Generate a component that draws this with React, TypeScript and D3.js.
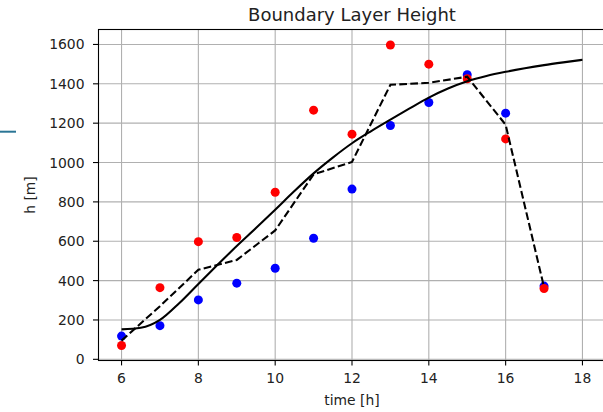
import React from "react";
import * as d3 from "d3";

const hours = [6, 7, 8, 9, 10, 11, 12, 13, 14, 15, 16, 17];
const redValues = [70, 364, 598, 619, 849, 1266, 1144, 1597, 1500, 1426, 1120, 360];
const blueValues = [118, 171, 302, 387, 463, 615, 865, 1188, 1305, 1446, 1251, 372];
const dashedValues = [95, 270, 455, 505, 655, 940, 1003, 1395, 1405, 1436, 1192, 366];

const modelHours = [6, 6.5, 7, 7.5, 8, 8.5, 9, 9.5, 10, 10.5, 11, 11.5, 12, 12.5, 13, 13.5, 14, 14.5, 15, 15.5, 16, 16.5, 17, 17.5, 18];
const modelValues = [152, 160, 200, 285, 383, 480, 576, 667, 760, 855, 945, 1025, 1098, 1160, 1218, 1275, 1330, 1376, 1413, 1440, 1461, 1479, 1495, 1509, 1522];

const xTicks = [6, 8, 10, 12, 14, 16, 18];
const yTicks = [0, 200, 400, 600, 800, 1000, 1200, 1400, 1600];

const W = 603;
const H = 412;
const L = 98.5, R = 605.5, T = 29.5, B = 360.5;
const FONT = "DejaVu Sans, sans-serif";
const TXT = "#222";

export default function App() {
  const x = d3.scaleLinear().domain([5.4, 18.6]).range([L, R]);
  const y = d3.scaleLinear().domain([-6, 1676]).range([B, T]);

  const dashedLine = d3
    .line<number>()
    .x((_, i) => x(hours[i]))
    .y((d) => y(d))(dashedValues) as string;

  const modelLine = d3
    .line<number>()
    .x((_, i) => x(modelHours[i]))
    .y((d) => y(d))
    .curve(d3.curveMonotoneX)(modelValues) as string;

  return (
    <svg
      width={W}
      height={H}
      viewBox={`0 0 ${W} ${H}`}
      style={{ position: "absolute", left: 0, top: 0, background: "#fff" }}
    >
      <rect x={0} y={0} width={W} height={H} fill="#fff" />
      {/* artifact line at left */}
      <line x1={0} x2={16} y1={131.7} y2={131.7} stroke="#2a7595" strokeWidth={2} />

      <defs>
        <clipPath id="plotclip">
          <rect x={L} y={T} width={R - L} height={B - T} />
        </clipPath>
      </defs>

      {/* grid */}
      {xTicks.map((t) => (
        <line key={"gx" + t} x1={x(t)} x2={x(t)} y1={T} y2={B} stroke="#b0b0b0" strokeWidth={1.1} />
      ))}
      {yTicks.map((t) => (
        <line key={"gy" + t} x1={L} x2={R} y1={y(t)} y2={y(t)} stroke="#b0b0b0" strokeWidth={1.1} />
      ))}

      <g clipPath="url(#plotclip)">
        {hours.map((h, i) => (
          <circle key={"b" + h} cx={x(h)} cy={y(blueValues[i])} r={4.5} fill="#0000ff" />
        ))}
        {hours.map((h, i) => (
          <circle key={"r" + h} cx={x(h)} cy={y(redValues[i])} r={4.5} fill="#ff0000" />
        ))}
        <path d={dashedLine} fill="none" stroke="#000" strokeWidth={2.08} strokeDasharray="7.7,3.3" />
        <path d={modelLine} fill="none" stroke="#000" strokeWidth={2.08} />
      </g>

      {/* spines */}
      <rect x={L} y={T} width={R - L} height={B - T} fill="none" stroke="#000" strokeWidth={1.1} />

      {/* x ticks */}
      {xTicks.map((t) => (
        <g key={"xt" + t}>
          <line x1={x(t)} x2={x(t)} y1={B} y2={B + 4.9} stroke="#000" strokeWidth={1.1} />
          <text x={x(t)} y={383} textAnchor="middle" fontFamily={FONT} fontSize={13.9} fill={TXT}>
            {t}
          </text>
        </g>
      ))}
      {/* y ticks */}
      {yTicks.map((t) => (
        <g key={"yt" + t}>
          <line x1={L - 5.5} x2={L} y1={y(t)} y2={y(t)} stroke="#000" strokeWidth={1.1} />
          <text
            x={L - 14}
            y={y(t)}
            dy="0.36em"
            textAnchor="end"
            fontFamily={FONT}
            fontSize={13.9}
            fill={TXT}
          >
            {t}
          </text>
        </g>
      ))}

      <text x={(L + R) / 2} y={21} textAnchor="middle" fontFamily={FONT} fontSize={18} fill={TXT}>
        Boundary Layer Height
      </text>
      <text x={(L + R) / 2} y={405} textAnchor="middle" fontFamily={FONT} fontSize={13.9} fill={TXT}>
        time [h]
      </text>
      <text
        transform={`translate(35,${(T + B) / 2}) rotate(-90)`}
        textAnchor="middle"
        fontFamily={FONT}
        fontSize={13.9}
        fill={TXT}
      >
        h [m]
      </text>
    </svg>
  );
}
